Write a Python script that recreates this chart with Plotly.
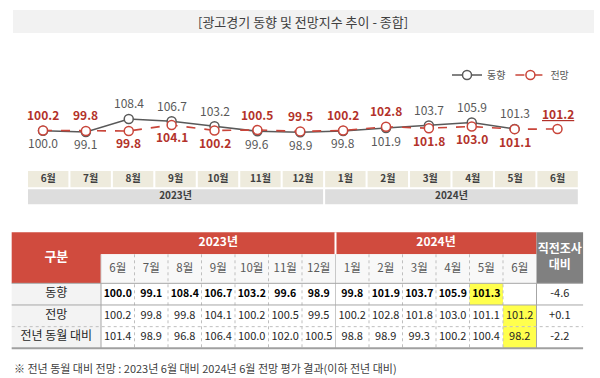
import plotly.graph_objects as go

# ---------------- data ----------------
months = ["6월", "7월", "8월", "9월", "10월", "11월", "12월", "1월", "2월", "3월", "4월", "5월", "6월"]
years = ["2023년", "2024년"]
year_counts = [7, 6]
series_names = ["동향", "전망"]
trend = [100.0, 99.1, 108.4, 106.7, 103.2, 99.6, 98.9, 99.8, 101.9, 103.7, 105.9, 101.3, None]
outlook = [100.2, 99.8, 99.8, 104.1, 100.2, 100.5, 99.5, 100.2, 102.8, 101.8, 103.0, 101.1, 101.2]
yoy = [101.4, 98.9, 96.8, 106.4, 100.0, 102.0, 100.5, 98.8, 98.9, 99.3, 100.2, 100.4, 98.2]
row_labels = ["동향", "전망", "전년 동월 대비"]
change_header = "직전조사<br>대비"
change = ["-4.6", "+0.1", "-2.2"]
corner_label = "구분"
highlight_cells = [(0, 11), (1, 12), (2, 12)]   # (row, month index) highlighted in yellow
title_text = "[광고경기 동향 및 전망지수 추이 - 종합]"
footnote = "※ 전년 동월 대비 전망 : 2023년 6월 대비 2024년 6월 전망 평가 결과(이하 전년 대비)"

# ---------------- style ----------------
W, H = 600, 378
KR = "Noto Sans CJK KR, Noto Sans, sans-serif"
NUM = "Noto Sans CJK KR, sans-serif"
GRAY_LINE = "#595959"
RED_LINE = "#C9453A"
RED_TEXT = "#B3322A"
HEADER_RED = "#D04B3E"
HEADER_GRAY = "#808080"
YELLOW = "#FFFF4D"
BORDER = "#A6A6A6"


def fy(p):
    return 1 - p / H


n = len(months)
idx = list(range(n))

fig = go.Figure()

# ---------------- line chart (x / y) ----------------
fig.add_trace(go.Scatter(
    x=idx, y=trend, name=series_names[0], mode="lines+markers",
    line=dict(color=GRAY_LINE, width=1.6),
    marker=dict(symbol="circle", size=9, color="white", line=dict(color=GRAY_LINE, width=1.5)),
    cliponaxis=False, xaxis="x", yaxis="y", hoverinfo="skip"))
fig.add_trace(go.Scatter(
    x=idx, y=outlook, name=series_names[1], mode="lines+markers",
    line=dict(color=RED_LINE, width=1.6, dash="dash"),
    marker=dict(symbol="circle", size=9, color="white", line=dict(color=RED_LINE, width=1.5)),
    cliponaxis=False, xaxis="x", yaxis="y", hoverinfo="skip"))

annotations = []
for i in idx:
    t, o = trend[i], outlook[i]
    # value labels: the larger value above, the smaller below
    if t is not None:
        above = (t > o)
        annotations.append(dict(
            x=i, y=t, xref="x", yref="y", text=f"{t:.1f}", showarrow=False,
            yshift=16 if above else -12, yanchor="middle",
            font=dict(family=KR, size=12, color=GRAY_LINE)))
    above_o = (t is None) or (o >= t)
    txt = f"<b>{o:.1f}</b>"
    if t is None:
        txt = f"<b><u>{o:.1f}</u></b>"
    annotations.append(dict(
        x=i, y=o, xref="x", yref="y", text=txt, showarrow=False,
        yshift=16 if above_o else -12, yanchor="middle",
        font=dict(family=KR, size=12, color=RED_TEXT)))

shapes = []

# ---------------- title bar ----------------
shapes.append(dict(type="rect", xref="paper", yref="paper", x0=13 / W, x1=594 / W,
                   y0=fy(33), y1=fy(10), fillcolor="#F2F2F2", line=dict(width=0), layer="below"))
annotations.append(dict(x=303 / W, y=fy(21.5), xref="paper", yref="paper", text=title_text,
                        xanchor="center", yanchor="middle",
                        showarrow=False, font=dict(family=KR, size=13, color="#404040")))

# ---------------- month strip (x2 / y2) ----------------
g = 0.024
for i in idx:
    shapes.append(dict(type="rect", xref="x2", yref="y2", x0=i - 0.5 + g, x1=i + 0.5 - g,
                       y0=-0.46, y1=0.46, fillcolor="#EEEBDD", line=dict(width=0), layer="below"))
fig.add_trace(go.Scatter(
    x=idx, y=[0] * n, text=months, mode="text", textposition="middle center",
    textfont=dict(family=KR, size=10, color="#404040", weight="bold"),
    xaxis="x2", yaxis="y2", showlegend=False, hoverinfo="skip", cliponaxis=False))
start = 0
ycx = []
for yr, cnt in zip(years, year_counts):
    shapes.append(dict(type="rect", xref="x2", yref="y2", x0=start - 0.5 + g, x1=start + cnt - 0.5 - g,
                       y0=0.575, y1=1.425, fillcolor="#DDDDDD", line=dict(width=0), layer="below"))
    ycx.append(start + (cnt - 1) / 2)
    start += cnt
fig.add_trace(go.Scatter(
    x=ycx, y=[1] * len(years), text=years, mode="text", textposition="middle center",
    textfont=dict(family=KR, size=10, color="#404040", weight="bold"),
    xaxis="x2", yaxis="y2", showlegend=False, hoverinfo="skip", cliponaxis=False))

# ---------------- table (x3 / y3) ----------------
LBL_W = 2.666      # label column width in month-column units
CHG_W = 1.391      # change column width
XL = -0.5 - LBL_W
XR = n - 0.5 + CHG_W
H1T, H1B = -2.854, -1.839   # header row 1 (years)
H2B = -0.5                  # header row 2 (months) bottom
NB = len(row_labels)

shapes.append(dict(type="rect", xref="x3", yref="y3", x0=XL, x1=-0.5, y0=H1T, y1=H2B,
                   fillcolor=HEADER_RED, line=dict(width=0), layer="below"))
shapes.append(dict(type="rect", xref="x3", yref="y3", x0=-0.5, x1=n - 0.5, y0=H1T, y1=H1B,
                   fillcolor=HEADER_RED, line=dict(width=0), layer="below"))
shapes.append(dict(type="rect", xref="x3", yref="y3", x0=-0.5, x1=n - 0.5, y0=H1B, y1=H2B,
                   fillcolor="#F8F8F8", line=dict(width=0), layer="below"))
shapes.append(dict(type="rect", xref="x3", yref="y3", x0=n - 0.5, x1=XR, y0=H1T, y1=H2B,
                   fillcolor=HEADER_GRAY, line=dict(width=0), layer="below"))
shapes.append(dict(type="rect", xref="x3", yref="y3", x0=XL, x1=-0.5, y0=-0.5, y1=NB - 0.5,
                   fillcolor="#F3F3F3", line=dict(width=0), layer="below"))
for r, c in highlight_cells:
    shapes.append(dict(type="rect", xref="x3", yref="y3", x0=c - 0.5, x1=c + 0.5, y0=r - 0.5, y1=r + 0.5,
                       fillcolor=YELLOW, line=dict(width=0), layer="below"))

shapes.append(dict(type="line", xref="x3", yref="y3", x0=year_counts[0] - 0.5, x1=year_counts[0] - 0.5,
                   y0=H1T, y1=H1B, line=dict(color="white", width=2)))
for j in range(n - 1):
    solid = (j + 1 == year_counts[0])
    shapes.append(dict(type="line", xref="x3", yref="y3", x0=j + 0.5, x1=j + 0.5, y0=H1B, y1=NB - 0.5,
                       line=dict(color="#C8C8C8" if solid else "#BFBFBF", width=1,
                                 dash="solid" if solid else "dot")))
for xv in (-0.5, n - 0.5):
    shapes.append(dict(type="line", xref="x3", yref="y3", x0=xv, x1=xv, y0=H2B, y1=NB - 0.5,
                       line=dict(color=BORDER, width=1)))
shapes.append(dict(type="line", xref="x3", yref="y3", x0=-0.5, x1=-0.5, y0=H1B, y1=H2B,
                   line=dict(color="#D0D0D0", width=1)))
shapes.append(dict(type="line", xref="x3", yref="y3", x0=XL, x1=XR, y0=-0.5, y1=-0.5,
                   line=dict(color=BORDER, width=1)))
shapes.append(dict(type="line", xref="x3", yref="y3", x0=XL, x1=XR, y0=0.5, y1=0.5,
                   line=dict(color=BORDER, width=1)))
shapes.append(dict(type="line", xref="x3", yref="y3", x0=XL, x1=XR, y0=1.5, y1=1.5,
                   line=dict(color="#BFBFBF", width=1, dash="dot")))
shapes.append(dict(type="line", xref="x3", yref="y3", x0=XL, x1=XR, y0=NB - 0.5, y1=NB - 0.5,
                   line=dict(color="#A0A0A0", width=2)))

fig.add_trace(go.Scatter(
    x=[(XL - 0.5) / 2], y=[(H1T + H2B) / 2], text=[corner_label], mode="text",
    textfont=dict(family=KR, size=13, color="white", weight="bold"),
    xaxis="x3", yaxis="y3", showlegend=False, hoverinfo="skip", cliponaxis=False))
start = 0
yx = []
for cnt in year_counts:
    yx.append(start + (cnt - 1) / 2)
    start += cnt
fig.add_trace(go.Scatter(
    x=yx, y=[(H1T + H1B) / 2] * len(years), text=years, mode="text",
    textfont=dict(family=KR, size=12, color="white", weight="bold"),
    xaxis="x3", yaxis="y3", showlegend=False, hoverinfo="skip", cliponaxis=False))
fig.add_trace(go.Scatter(
    x=idx, y=[(H1B + H2B) / 2] * n, text=months, mode="text",
    textfont=dict(family=KR, size=11.5, color="#595959"),
    xaxis="x3", yaxis="y3", showlegend=False, hoverinfo="skip", cliponaxis=False))
fig.add_trace(go.Scatter(
    x=[n - 0.5 + CHG_W / 2], y=[(H1T + H2B) / 2], text=[change_header], mode="text",
    textfont=dict(family=KR, size=12, color="white", weight="bold"),
    xaxis="x3", yaxis="y3", showlegend=False, hoverinfo="skip", cliponaxis=False))

fig.add_trace(go.Scatter(
    x=[(XL - 0.5) / 2] * NB, y=list(range(NB)), text=row_labels, mode="text",
    textfont=dict(family=KR, size=12, color="#262626"),
    xaxis="x3", yaxis="y3", showlegend=False, hoverinfo="skip", cliponaxis=False))
tx = [i for i in idx if trend[i] is not None]
fig.add_trace(go.Scatter(
    x=tx, y=[0] * len(tx), text=[f"{trend[i]:.1f}" for i in tx], mode="text",
    textfont=dict(family=NUM, size=10.5, color="#000000", weight="bold"),
    xaxis="x3", yaxis="y3", showlegend=False, hoverinfo="skip", cliponaxis=False))
fig.add_trace(go.Scatter(
    x=idx, y=[1] * n, text=[f"{v:.1f}" for v in outlook], mode="text",
    textfont=dict(family=NUM, size=11, color="#262626"),
    xaxis="x3", yaxis="y3", showlegend=False, hoverinfo="skip", cliponaxis=False))
fig.add_trace(go.Scatter(
    x=idx, y=[2] * n, text=[f"{v:.1f}" for v in yoy], mode="text",
    textfont=dict(family=NUM, size=11, color="#262626"),
    xaxis="x3", yaxis="y3", showlegend=False, hoverinfo="skip", cliponaxis=False))
fig.add_trace(go.Scatter(
    x=[n - 0.5 + CHG_W / 2] * NB, y=list(range(NB)), text=change, mode="text",
    textfont=dict(family=NUM, size=11, color="#262626"),
    xaxis="x3", yaxis="y3", showlegend=False, hoverinfo="skip", cliponaxis=False))

annotations.append(dict(x=12 / W, y=fy(367.5), xref="paper", yref="paper", text=footnote,
                        xanchor="left", yanchor="middle", showarrow=False,
                        font=dict(family=KR, size=11, color="#404040")))

hidden = dict(visible=False, showgrid=False, zeroline=False, fixedrange=True)
px_u = 42.875
x0 = -43 / px_u
py_u = 1.4
fig.update_layout(
    width=W, height=H, margin=dict(l=0, r=0, t=0, b=0),
    paper_bgcolor="white", plot_bgcolor="rgba(0,0,0,0)",
    xaxis=dict(hidden, domain=[0, 1], range=[x0, x0 + W / px_u]),
    yaxis=dict(hidden, domain=[0, 1], range=[100 - (H - 130.7) / py_u, 100 + 130.7 / py_u]),
    xaxis2=dict(hidden, domain=[0, 1], anchor="y2", range=[-48.2 / 42.45, -48.2 / 42.45 + W / 42.45]),
    yaxis2=dict(hidden, domain=[0, 1], anchor="x2",
                range=[(H - 179.15) / 17.65, -179.15 / 17.65]),
    xaxis3=dict(hidden, domain=[0, 1], anchor="y3", range=[-117.75 / 33.5, -117.75 / 33.5 + W / 33.5]),
    yaxis3=dict(hidden, domain=[0, 1], anchor="x3",
                range=[(H - 294.15) / 21.67, -294.15 / 21.67]),
    showlegend=True,
    legend=dict(orientation="h", x=0.745, y=fy(75), xanchor="left", yanchor="middle",
                font=dict(family=KR, size=10, color="#595959"), bgcolor="rgba(0,0,0,0)",
                itemwidth=30, tracegroupgap=0),
    shapes=shapes, annotations=annotations,
)

fig.write_html("out.html", config={"displayModeBar": False},
               post_script="document.body.style.margin='0';")
